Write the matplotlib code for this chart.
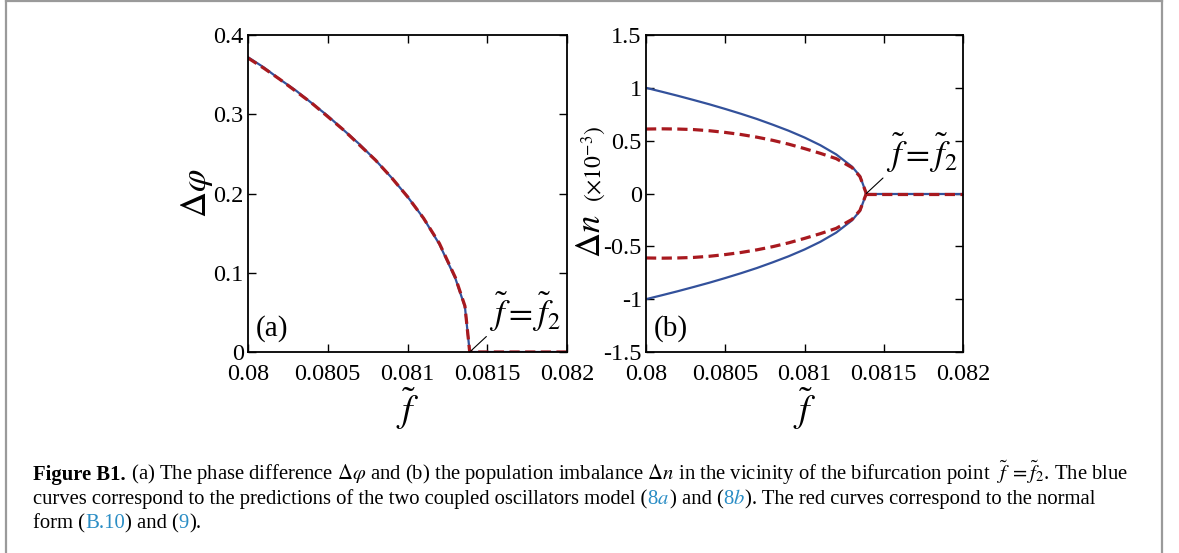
import numpy as np
import matplotlib
matplotlib.use("Agg")
import matplotlib.pyplot as plt
from matplotlib.lines import Line2D

plt.rcParams["font.family"] = ["Liberation Serif", "DejaVu Serif"]
plt.rcParams["mathtext.fontset"] = "stix"

# ---- data ----
f_a = [0.0800, 0.0801, 0.0802, 0.0803, 0.0804, 0.0805, 0.0806, 0.0807, 0.0808,
       0.0809, 0.0810, 0.0811, 0.0812, 0.0813, 0.08133, 0.08136, 0.08139, 0.0820]
dphi_model = [0.372, 0.359, 0.344, 0.330, 0.314, 0.298, 0.280, 0.262, 0.242,
              0.220, 0.196, 0.169, 0.136, 0.093, 0.075, 0.057, 0.0, 0.0]
dphi_normal = [0.371, 0.358, 0.344, 0.329, 0.314, 0.297, 0.280, 0.261, 0.242,
               0.220, 0.196, 0.169, 0.137, 0.094, 0.076, 0.058, 0.0, 0.0]

f_b = [0.0800, 0.0801, 0.0802, 0.0803, 0.0804, 0.0805, 0.0806, 0.0807, 0.0808,
       0.0809, 0.0810, 0.0811, 0.0812, 0.0813, 0.08135, 0.08139]
dn_model = [1.0, 0.963, 0.925, 0.885, 0.844, 0.800, 0.754, 0.705, 0.651,
            0.594, 0.530, 0.457, 0.370, 0.254, 0.165, 0.0]
dn_normal = [0.61, 0.612, 0.61, 0.605, 0.594, 0.578, 0.558, 0.533, 0.503,
             0.467, 0.425, 0.380, 0.330, 0.245, 0.160, 0.0]
f_flat = [0.08139, 0.0820]
dn_flat = [0.0, 0.0]

xticks = [0.08, 0.0805, 0.081, 0.0815, 0.082]
xticklabels = ["0.08", "0.0805", "0.081", "0.0815", "0.082"]
yticks_a = [0, 0.1, 0.2, 0.3, 0.4]
yticklabels_a = ["0", "0.1", "0.2", "0.3", "0.4"]
yticks_b = [-1.5, -1, -0.5, 0, 0.5, 1, 1.5]
yticklabels_b = ["-1.5", "-1", "-0.5", "0", "0.5", "1", "1.5"]
f2 = 0.08139

BLUE = "#33519b"
RED = "#a8191f"
LINK = "#2a8dc5"

W, H = 1179, 553
fig = plt.figure(figsize=(W / 100, H / 100), dpi=100)


def px_axes(x0, y0, x1, y1):
    return fig.add_axes([x0 / W, 1 - y1 / H, (x1 - x0) / W, (y1 - y0) / H])


def style(ax, yt, ytl, ylim):
    ax.set_xlim(0.08, 0.082)
    ax.set_ylim(*ylim)
    ax.set_xticks(xticks)
    ax.set_xticklabels(xticklabels)
    ax.set_yticks(yt)
    ax.set_yticklabels(ytl)
    ax.tick_params(direction="in", length=6, width=1.0, top=True, right=True,
                   labelsize=17.5)
    ax.tick_params(axis="x", pad=9)
    ax.tick_params(axis="y", pad=3)
    for s in ax.spines.values():
        s.set_linewidth(1.3)
    ax.set_xlabel(r"$\tilde{f}$", fontsize=27, labelpad=0)


dash = dict(color=RED, lw=2.3, ls=(0, (3.2, 1.7)))

# (a)
ax1 = px_axes(248, 35, 567, 352)
ax1.plot(f_a, dphi_model, color=BLUE, lw=1.6)
ax1.plot(f_a, dphi_normal, **dash)
style(ax1, yticks_a, yticklabels_a, (0, 0.4))
ax1.set_ylabel(r"$\Delta\varphi$", fontsize=26, labelpad=-1)
ax1.text(0.025, 0.03, "(a)", transform=ax1.transAxes, fontsize=21,
         ha="left", va="bottom")

# (b)
ax2 = px_axes(646, 35, 963, 352)
ax2.plot(f_b, dn_model, color=BLUE, lw=1.6)
ax2.plot(f_b, [-v for v in dn_model], color=BLUE, lw=1.6)
ax2.plot(f_flat, dn_flat, color=BLUE, lw=1.6)
ax2.plot(f_b, dn_normal, **dash)
ax2.plot(f_b, [-v for v in dn_normal], **dash)
ax2.plot(f_flat, dn_flat, **dash)
style(ax2, yticks_b, yticklabels_b, (-1.5, 1.5))
ax2.text(0.025, 0.03, "(b)", transform=ax2.transAxes, fontsize=21,
         ha="left", va="bottom")
fig.text(591 / W, 1 - 236 / H, r"$\Delta n$", fontsize=25, rotation=90,
         ha="center", va="center")
fig.text(594 / W, 1 - 164 / H, r"$(\times 10^{-3})$", fontsize=17,
         rotation=90, ha="center", va="center")

for ax in (ax1, ax2):
    ax.annotate(r"$\tilde{f}=\tilde{f}_2$", xy=(f2, 0),
                xytext=(14, 13), textcoords="offset points",
                fontsize=25, ha="left", va="bottom",
                arrowprops=dict(arrowstyle="-", lw=0.8, color="black",
                                shrinkA=0, shrinkB=0, relpos=(0.0, 0.0)))

# frame around the figure
for xs, ys in (([6, 6], [0, H]), ([1162, 1162], [0, H]), ([6, 1162], [1, 1])):
    fig.add_artist(Line2D([x / W for x in xs], [1 - y / H for y in ys],
                          color="#9a9a9a", lw=1.6))

# caption, drawn chunk by chunk
cap_lines = [
    [("Figure B1.", "black", "bold"),
     (r" (a) The phase difference $\Delta\varphi$ and (b) the population imbalance"
      r" $\Delta n$ in the vicinity of the bifurcation point  $\tilde{f}\ =\tilde{f}_2$."
      r" The blue", "black", "normal")],
    [("curves correspond to the predictions of the two coupled oscillators model (",
      "black", "normal"),
     (r"8$a$", LINK, "normal"), (") and (", "black", "normal"),
     (r"8$b$", LINK, "normal"),
     ("). The red curves correspond to the normal", "black", "normal")],
    [("form (", "black", "normal"), ("B.10", LINK, "normal"),
     (") and (", "black", "normal"), ("9", LINK, "normal"),
     (").", "black", "normal")],
]
cap_base = [480, 504, 528]
cap_size = 14.9

renderer = fig.canvas.get_renderer()
for chunks, yb in zip(cap_lines, cap_base):
    x = 33
    for s, c, wgt in chunks:
        t = fig.text(x / W, 1 - yb / H, s, color=c, fontweight=wgt,
                     fontsize=cap_size, ha="left", va="baseline")
        bb = t.get_window_extent(renderer=renderer)
        x += bb.width

fig.savefig("out.png", dpi=100)
